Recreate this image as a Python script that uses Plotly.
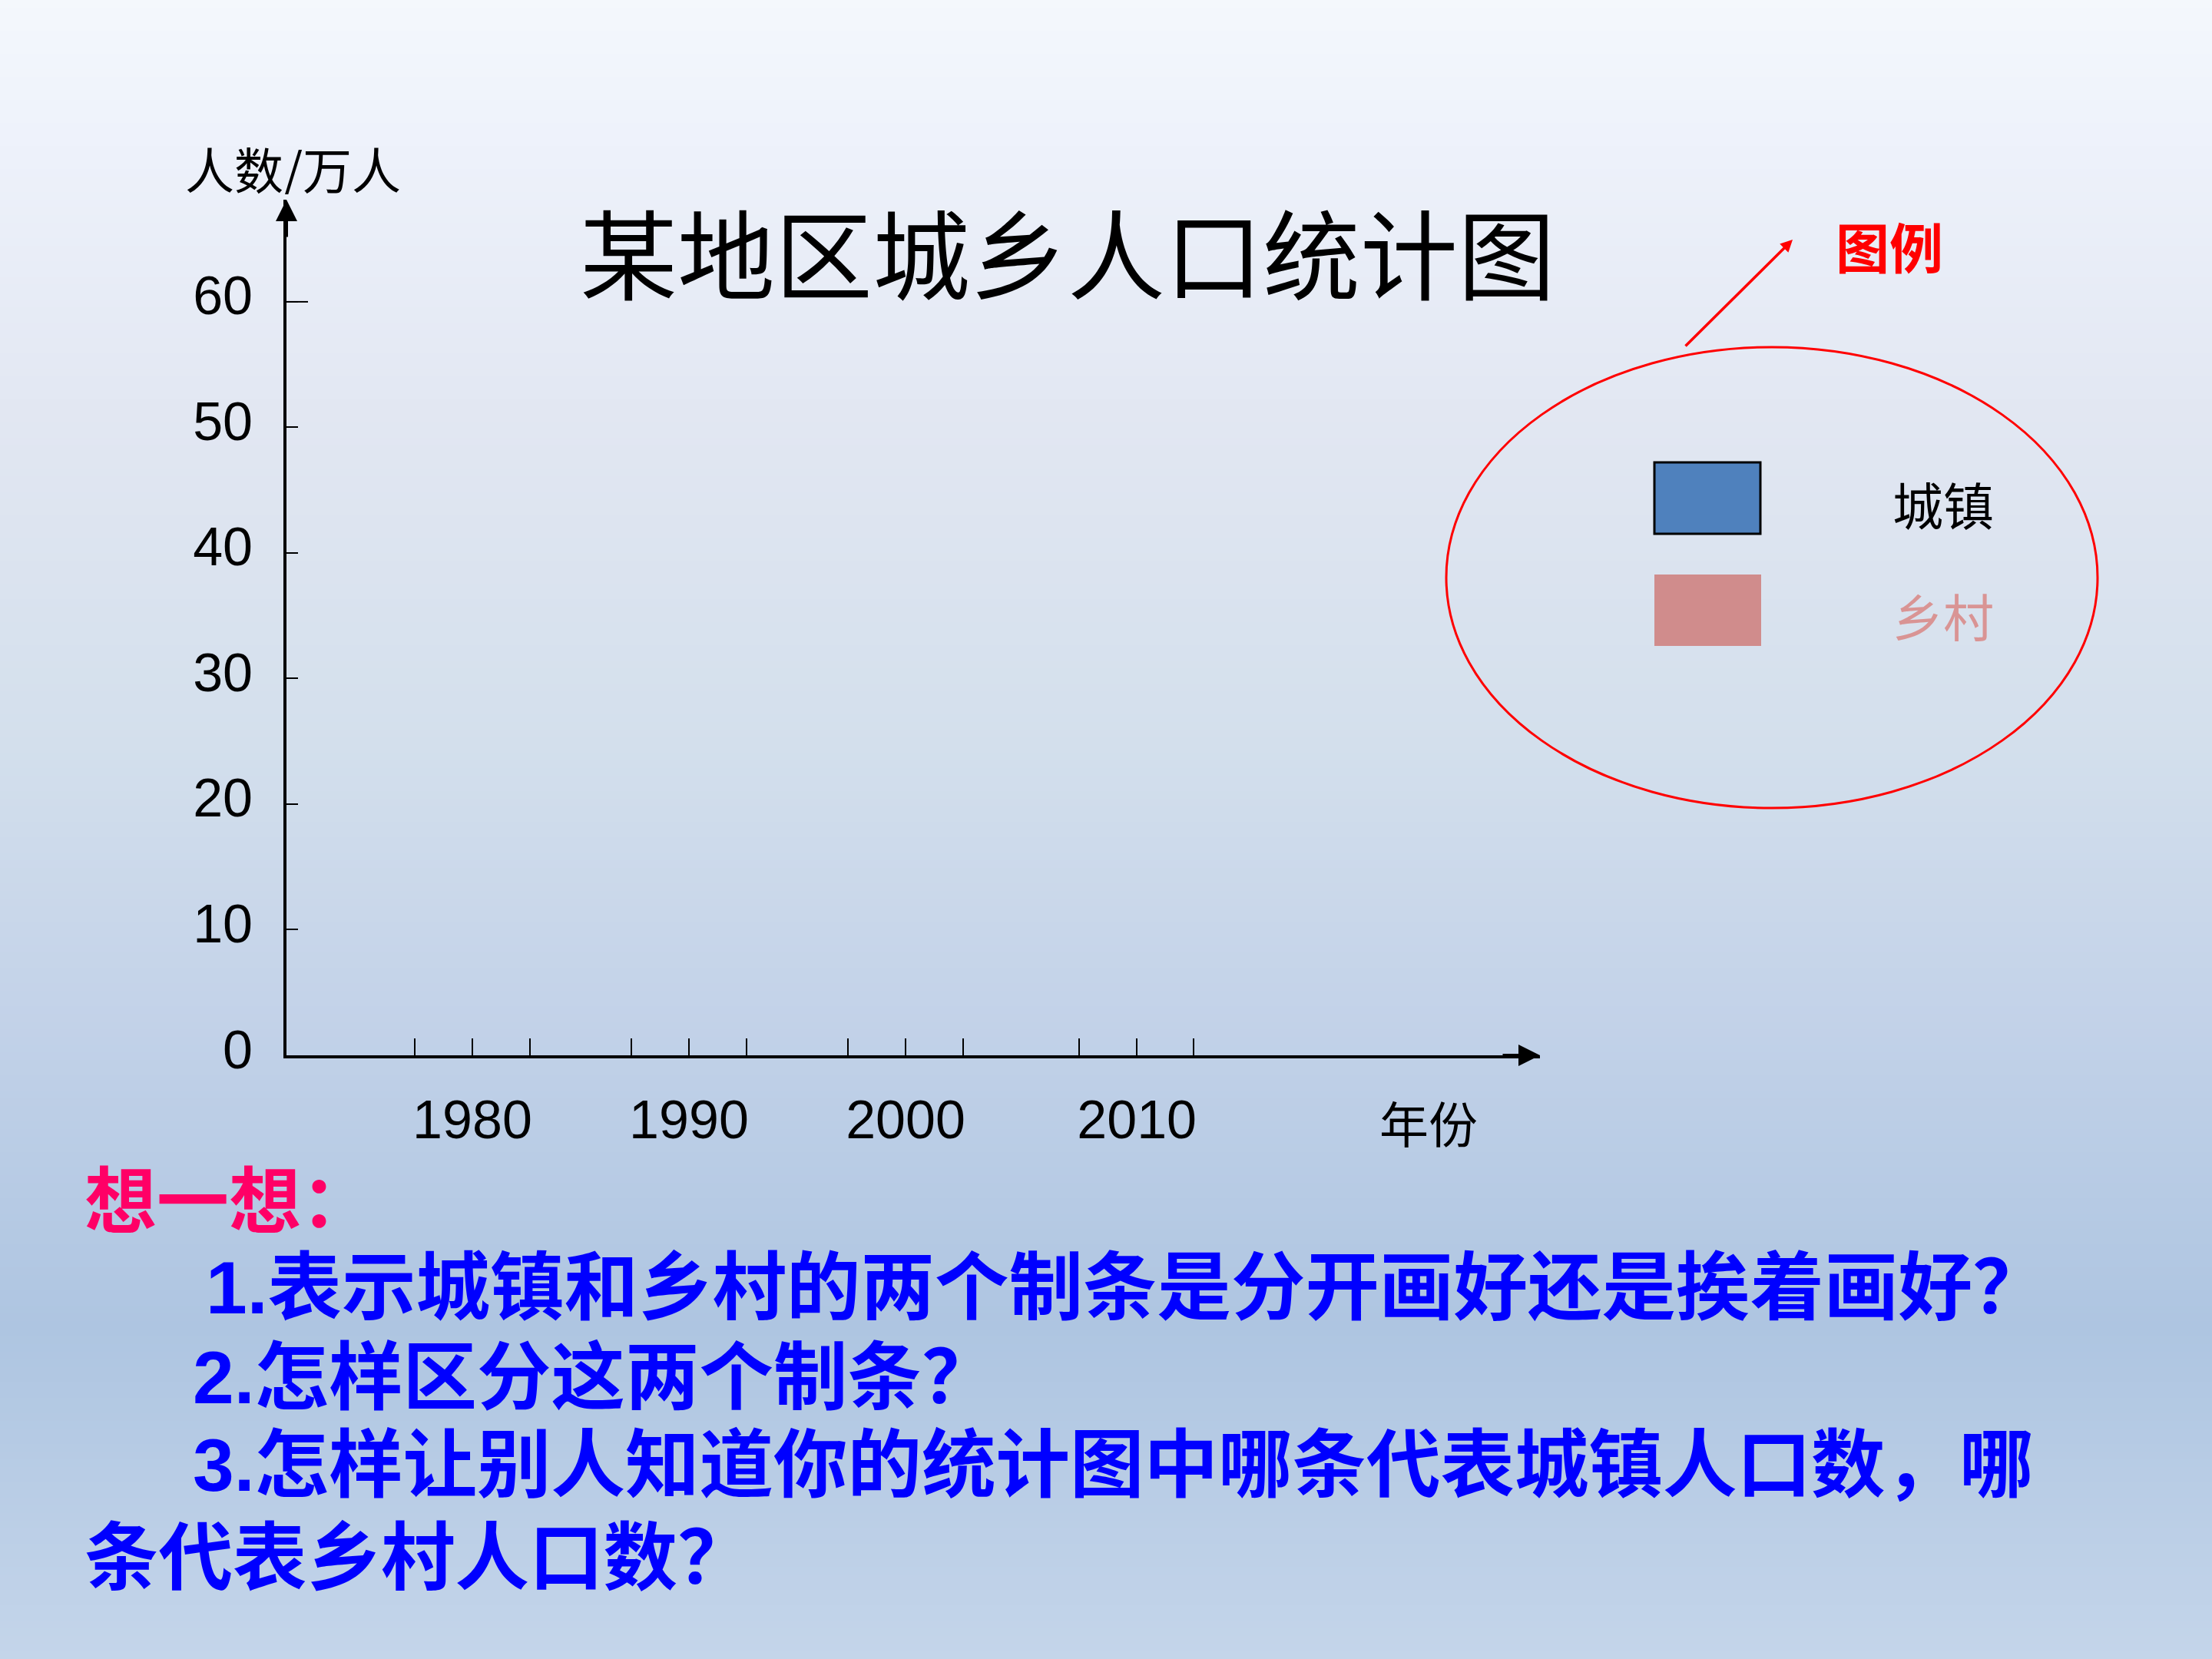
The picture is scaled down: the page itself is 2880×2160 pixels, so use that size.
import plotly.graph_objects as go

# ---------------- data ----------------
years = [1980, 1990, 2000, 2010]
series_names = ["城镇", "乡村"]
series_colors = ["#4F81BD", "#D08C8C"]
urban_values = [None, None, None, None]   # chart is blank in the reference
rural_values = [None, None, None, None]

x_tick_pos = [1977.34, 1980.0, 1982.66, 1987.34, 1990.0, 1992.66,
              1997.34, 2000.0, 2002.66, 2008.02, 2010.68, 2013.30]
x_tick_text = ["", "1980", "", "", "1990", "", "", "2000", "", "", "2010", ""]
y_tick_vals = [0, 10, 20, 30, 40, 50, 60]
y_tick_text = ["0", "10", "20", "30", "40", "50", "60"]

title_text = "某地区城乡人口统计图"
y_title = "人数/万人"
x_title = "年份"
legend_title = "图例"
think_title = "想一想："
questions = [
    "1.表示城镇和乡村的两个制条是分开画好还是挨着画好？",
    "2.怎样区分这两个制条？",
    "3.怎样让别人知道你的统计图中哪条代表城镇人口数，哪",
    "条代表乡村人口数？",
]

# ---------------- layout geometry ----------------
W, H = 2880, 2160
PL, PR, PT, PB = 373, 2005, 260, 1374
X_RANGE = [1971.42, 2029.29]
Y_RANGE = [0, 68.13]


def px(x):
    return (x - PL) / (PR - PL)


def py(y):
    return (PB - y) / (PB - PT)


CJK = "Noto Sans CJK SC, Noto Sans, sans-serif"
MIX = "Liberation Sans, Noto Sans CJK SC, sans-serif"
LAT = "Liberation Sans, Arial, sans-serif"

fig = go.Figure()
fig.add_trace(go.Bar(x=years, y=urban_values, name=series_names[0],
                     marker_color=series_colors[0], showlegend=False))
fig.add_trace(go.Bar(x=years, y=rural_values, name=series_names[1],
                     marker_color=series_colors[1], showlegend=False))

shapes = []
# background gradient (slide background)
stops = [(0.0, (244, 248, 252)), (0.08, (238, 242, 251)), (0.25, (226, 231, 242)),
         (0.45, (211, 223, 236)), (0.6, (196, 211, 233)), (0.8, (174, 197, 225)),
         (1.0, (196, 213, 234))]


def grad(t):
    for (t0, c0), (t1, c1) in zip(stops[:-1], stops[1:]):
        if t0 <= t <= t1:
            f = (t - t0) / (t1 - t0)
            return tuple(round(a + (b - a) * f) for a, b in zip(c0, c1))
    return stops[-1][1]


band = 10
for y0 in range(0, H, band):
    c = grad((y0 + band / 2) / H)
    shapes.append(dict(type="rect", xref="paper", yref="paper", layer="below",
                       x0=px(-5), x1=px(W + 5), y0=py(y0 + band + 1), y1=py(y0),
                       fillcolor="rgb(%d,%d,%d)" % c, line=dict(width=0)))

# longer tick at 60
shapes.append(dict(type="line", xref="paper", yref="y", x0=0, x1=28 / (PR - PL),
                   y0=60, y1=60, line=dict(color="black", width=2)))

# legend ellipse and swatches
shapes.append(dict(type="circle", xref="paper", yref="paper",
                   x0=px(1883), x1=px(2731), y0=py(1052), y1=py(452),
                   line=dict(color="#FF0000", width=3)))
shapes.append(dict(type="rect", xref="paper", yref="paper",
                   x0=px(2154), x1=px(2292), y0=py(695), y1=py(602),
                   fillcolor=series_colors[0], line=dict(color="black", width=3)))
shapes.append(dict(type="rect", xref="paper", yref="paper",
                   x0=px(2154), x1=px(2293), y0=py(841), y1=py(748),
                   fillcolor=series_colors[1], line=dict(width=0)))

ann = []
# axis arrowheads
ann.append(dict(x=1, y=0, xref="paper", yref="paper", text="", showarrow=True,
                ax=-50, ay=0, arrowhead=2, arrowsize=1.4, arrowwidth=4, arrowcolor="black"))
ann.append(dict(x=0, y=1, xref="paper", yref="paper", text="", showarrow=True,
                ax=0, ay=50, arrowhead=2, arrowsize=1.4, arrowwidth=4, arrowcolor="black"))
# red pointer arrow
ann.append(dict(x=px(2334), y=py(312), xref="paper", yref="paper", text="", showarrow=True,
                ax=-141, ay=140, arrowhead=2, arrowsize=0.9, arrowwidth=3.5, arrowcolor="#FF0000"))


def label(x, y, text, size, color, bold=False, anchor="center", height=None, family=CJK):
    f = dict(family=family, size=size, color=color)
    if bold:
        f["weight"] = "bold"
    d = dict(x=px(x), y=py(y), xref="paper", yref="paper", text=text,
             xanchor=anchor, yanchor="middle", showarrow=False, font=f)
    if height:
        d["height"] = height
        d["valign"] = "middle"
    return d


ann.append(label(1390, 326, title_text, 127, "black"))
ann.append(label(381, 218, y_title, 64, "black", height=70))
ann.append(label(1860, 1460, x_title, 64, "black"))
ann.append(label(2460, 319, legend_title, 70, "#FF0000", bold=True))
ann.append(label(2530, 655, series_names[0], 66, "black"))
ann.append(label(2530, 800, series_names[1], 66, "#D99494"))
ann.append(label(108, 1565, think_title, 94, "#FF0066", bold=True, anchor="left",
                 height=100, family=MIX))

q_pos = [(266, 1676), (249, 1793), (249, 1907), (108, 2028)]
for (qx, qy), q in zip(q_pos, questions):
    ann.append(label(qx, qy, q, 96.5, "#0000FF", bold=True, anchor="left",
                     height=104, family=MIX))

fig.update_layout(
    width=W, height=H, autosize=False,
    margin=dict(l=PL, r=W - PR, t=PT, b=H - PB, pad=0),
    paper_bgcolor="rgb(196,213,234)", plot_bgcolor="rgba(0,0,0,0)",
    shapes=shapes, annotations=ann, showlegend=False,
    xaxis=dict(range=X_RANGE, showline=True, linewidth=4, linecolor="black",
               showgrid=False, zeroline=False, ticks="inside", ticklen=22,
               tickwidth=2, tickcolor="black", tickvals=x_tick_pos, ticktext=x_tick_text,
               tickfont=dict(family=LAT, size=70, color="black"),
               ticklabelstandoff=20, fixedrange=True),
    yaxis=dict(range=Y_RANGE, showline=True, linewidth=4, linecolor="black",
               showgrid=False, zeroline=False, ticks="inside", ticklen=15,
               tickwidth=2, tickcolor="black", tickvals=y_tick_vals, ticktext=y_tick_text,
               tickfont=dict(family=LAT, size=70, color="black"),
               ticklabelstandoff=26, ticklabelshift=-8, fixedrange=True),
)

fig.write_html("out.html", config={"displayModeBar": False},
               post_script="document.body.style.margin='0';")
